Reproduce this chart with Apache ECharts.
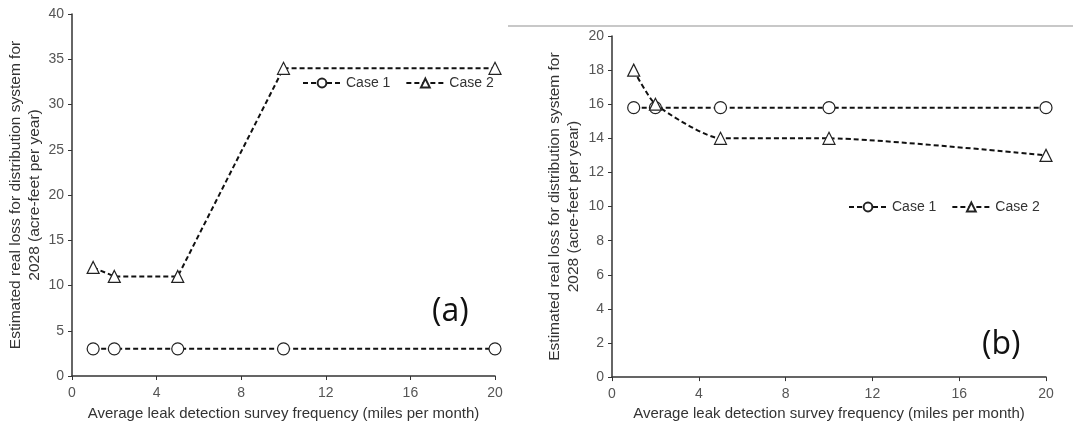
<!DOCTYPE html>
<html>
<head>
<meta charset="utf-8">
<script src="https://cdn.jsdelivr.net/npm/echarts@6/dist/echarts.min.js"></script>
<style>
html,body{margin:0;padding:0;background:#fff;}
#chart{width:1073px;height:426px;}
</style>
</head>
<body>
<div id="chart"></div>
<script>
const xValues = [1, 2, 5, 10, 20];
const caseA1 = [3, 3, 3, 3, 3];
const caseA2 = [12, 11, 11, 34, 34];
const caseB1 = [15.8, 15.8, 15.8, 15.8, 15.8];
const caseB2 = [18, 16, 14, 14, 13];
const seriesNames = ['Case 1', 'Case 2'];
const xTitle = 'Average leak detection survey frequency (miles per month)';
const yTitle = 'Estimated real loss for distribution system for\n2028 (acre-feet per year)';

const pairs = (ys) => xValues.map((x, i) => [x, ys[i]]);
const font = 'Liberation Sans, Arial, sans-serif';
const axisCol = '#333';
const labelCol = '#555';

function xAxis(gi, gap) {
  return {
    type: 'value', gridIndex: gi, min: 0, max: 20, interval: 4,
    name: xTitle, nameLocation: 'middle', nameGap: gap,
    nameTextStyle: { fontFamily: font, fontSize: 15, color: '#333' },
    axisLine: { show: true, lineStyle: { color: axisCol, width: 1.5 } },
    axisTick: { show: true, length: 4, lineStyle: { color: axisCol } },
    axisLabel: { fontFamily: font, fontSize: 14, color: labelCol, margin: 10 },
    splitLine: { show: false }
  };
}
function yAxis(gi, max, interval, gap) {
  return {
    type: 'value', gridIndex: gi, min: 0, max: max, interval: interval,
    name: yTitle, nameLocation: 'middle', nameGap: gap,
    nameTextStyle: { fontFamily: font, fontSize: 15.5, color: '#333', lineHeight: 19, align: 'center' },
    axisLine: { show: true, lineStyle: { color: axisCol, width: 1.5 } },
    axisTick: { show: true, length: 4, lineStyle: { color: axisCol } },
    axisLabel: { fontFamily: font, fontSize: 14, color: labelCol, margin: 8 },
    splitLine: { show: false }
  };
}
function series(name, gi, ys, symbol, smooth) {
  return {
    name: name, type: 'line', xAxisIndex: gi, yAxisIndex: gi,
    data: pairs(ys), symbol: symbol, symbolSize: 12,
    smooth: smooth || false,
    showAllSymbol: true,
    lineStyle: { color: '#111', width: 2, type: [5, 3] },
    itemStyle: { color: '#fff', borderColor: '#222', borderWidth: 1.2 },
    emphasis: { disabled: true },
    animation: false
  };
}
const legendCommon = {
  data: seriesNames,
  padding: 0,
  itemWidth: 38, itemHeight: 11, itemGap: 15,
  textStyle: { fontFamily: font, fontSize: 14, color: '#333' },
  selectedMode: false
};

const chart = echarts.init(document.getElementById('chart'));
chart.setOption({
  animation: false,
  grid: [
    { left: 72, right: 578, top: 14, bottom: 49 },
    { left: 612, right: 27, top: 36, bottom: 47 }
  ],
  xAxis: [xAxis(0, 30), xAxis(1, 28)],
  yAxis: [yAxis(0, 40, 5, 24), yAxis(1, 20, 2, 29)],
  legend: [
    Object.assign({ left: 302, top: 76 }, legendCommon),
    Object.assign({ left: 848, top: 200 }, legendCommon)
  ],
  series: [
    series('Case 1', 0, caseA1, 'circle'),
    series('Case 2', 0, caseA2, 'triangle'),
    series('Case 1', 1, caseB1, 'circle'),
    series('Case 2', 1, caseB2, 'triangle', 0.2)
  ],
  graphic: [
    { type: 'line', shape: { x1: 508, y1: 26, x2: 1073, y2: 26 }, style: { stroke: '#c8c8c8', lineWidth: 2 } },
    { type: 'text', left: 432, top: 296, style: { text: '(a)', font: '32px "Open Sans", Lato, sans-serif', fill: '#111' } },
    { type: 'text', left: 982, top: 329, style: { text: '(b)', font: '32px "Open Sans", Lato, sans-serif', fill: '#111' } }
  ]
});
</script>
</body>
</html>
